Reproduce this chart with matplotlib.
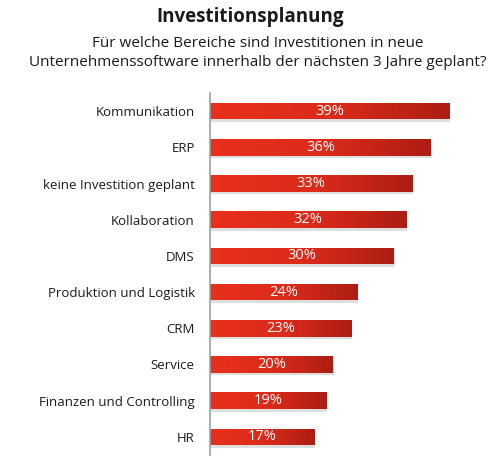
import matplotlib.pyplot as plt
import numpy as np
from matplotlib.colors import LinearSegmentedColormap
from matplotlib.patches import Rectangle

plt.rcParams['font.family'] = ['Open Sans', 'DejaVu Sans']

categories = ["Kommunikation", "ERP", "keine Investition geplant", "Kollaboration", "DMS",
              "Produktion und Logistik", "CRM", "Service", "Finanzen und Controlling", "HR"]
values = [39, 36, 33, 32, 30, 24, 23, 20, 19, 17]
value_labels = ["39%", "36%", "33%", "32%", "30%", "24%", "23%", "20%", "19%", "17%"]

title = "Investitionsplanung"
subtitle = "Für welche Bereiche sind Investitionen in neue\nUnternehmenssoftware innerhalb der nächsten 3 Jahre geplant?"

fig = plt.figure(figsize=(5, 4.7), dpi=100)
ax = fig.add_axes([0.42, 0.032, 0.552, 0.77])

grad = LinearSegmentedColormap.from_list("red", ["#e8301c", "#dc2b1a", "#ad1d14"])
g = np.linspace(0, 1, 256).reshape(1, -1)

h = 0.46
n = len(categories)
ypos = np.arange(n)[::-1]
for y, v, lab in zip(ypos, values, value_labels):
    # shadow
    ax.add_patch(Rectangle((0.15, y - h / 2 - 0.07), v, h, color="#c8c8c8", alpha=0.6, lw=0, zorder=1))
    im = ax.imshow(g, cmap=grad, aspect="auto", extent=(0, v, y - h / 2, y + h / 2), zorder=2)
    clip = Rectangle((0, y - h / 2), v, h, transform=ax.transData)
    im.set_clip_path(clip)
    ax.text(v / 2, y, lab, color="white", ha="center", va="center", fontsize=10.5, zorder=3)

ax.set_xlim(0, 45)
ax.set_ylim(-0.5, n - 0.5)
ax.set_yticks(ypos)
ax.set_yticklabels(categories, fontsize=9.5, color="#1a1a1a")
ax.tick_params(axis="y", length=0, pad=11)
ax.set_xticks([])
for s in ["top", "right", "bottom"]:
    ax.spines[s].set_visible(False)
ax.spines["left"].set_color("#9aa0a8")
ax.spines["left"].set_linewidth(1.2)

fig.text(0.5, 0.963, title, ha="center", va="center", fontsize=13.5, fontweight="bold", color="#1a1a1a")
fig.text(0.515, 0.887, subtitle, ha="center", va="center", fontsize=11, color="#1a1a1a", linespacing=1.3)

fig.savefig("out.png", dpi=100)
